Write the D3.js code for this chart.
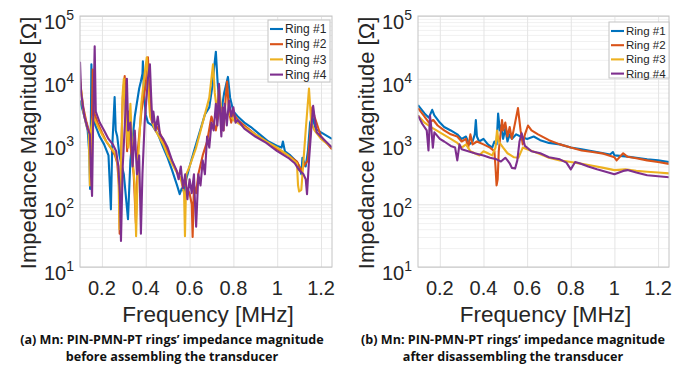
<!DOCTYPE html>
<html>
<head>
<meta charset="utf-8">
<script src="https://cdn.jsdelivr.net/npm/d3@7"></script>
<style>
  body { margin: 0; background: #fff; }
  text { font-family: "Liberation Sans", Arial, sans-serif; }
</style>
</head>
<body>
<div id="chart"></div>
<script>
const ringNames = ["Ring #1", "Ring #2", "Ring #3", "Ring #4"];
const ringColors = ["#0072BD", "#D95319", "#EDB120", "#7E2F8E"];

const xTicks = [0.2, 0.4, 0.6, 0.8, 1, 1.2];
const xTickLabels = ["0.2", "0.4", "0.6", "0.8", "1", "1.2"];
const yTicks = [1e1, 1e2, 1e3, 1e4, 1e5];
const yExponents = ["1", "2", "3", "4", "5"];

const captionsA = ["(a) Mn: PIN-PMN-PT rings\u2019 impedance magnitude", "before assembling the transducer"];
const captionsB = ["(b) Mn: PIN-PMN-PT rings\u2019 impedance magnitude", "after disassembling the transducer"];

// (a) before assembling: [frequency MHz, |Z| ohm]
const beforeRing1 = [[0.10,4500],[0.12,2500],[0.135,1500],[0.143,600],[0.146,175],[0.149,1200],[0.152,17000],[0.157,3000],[0.17,1800],[0.19,1200],[0.21,900],[0.23,600],[0.241,83],[0.247,800],[0.258,5100],[0.263,1500],[0.27,1200],[0.28,600],[0.30,300],[0.319,58],[0.33,500],[0.35,2500],[0.37,7000],[0.378,9100],[0.385,12000],[0.387,19000],[0.392,6000],[0.40,2700],[0.41,2000],[0.43,1800],[0.456,1300],[0.48,800],[0.50,550],[0.52,350],[0.543,200],[0.555,145],[0.565,180],[0.575,160],[0.585,250],[0.60,400],[0.62,700],[0.64,1200],[0.67,2700],[0.69,3500],[0.705,8000],[0.712,15000],[0.72,27000],[0.727,10000],[0.735,4000],[0.745,3000],[0.758,6000],[0.775,10700],[0.785,5000],[0.80,3000],[0.82,2500],[0.85,2000],[0.88,1700],[0.92,1300],[0.96,1000],[1.0,850],[1.02,800],[1.026,1000],[1.035,700],[1.06,600],[1.09,470],[1.10,400],[1.11,300],[1.115,550],[1.13,400],[1.14,700],[1.15,2000],[1.16,2500],[1.175,1600],[1.20,1400],[1.25,1100]];
const beforeRing2 = [[0.10,9000],[0.115,3500],[0.13,2000],[0.143,1400],[0.148,250],[0.155,3000],[0.158,14000],[0.163,3000],[0.18,2000],[0.20,1400],[0.22,1000],[0.24,800],[0.26,600],[0.27,450],[0.278,200],[0.281,34],[0.287,500],[0.295,5000],[0.304,11000],[0.31,3000],[0.315,700],[0.32,3000],[0.33,900],[0.345,300],[0.355,50],[0.365,800],[0.38,3000],[0.40,8000],[0.41,22000],[0.415,8000],[0.425,3000],[0.44,2000],[0.46,1500],[0.48,1000],[0.50,700],[0.53,400],[0.56,250],[0.58,200],[0.60,150],[0.61,100],[0.614,30],[0.62,200],[0.63,150],[0.64,300],[0.66,600],[0.68,1000],[0.70,2500],[0.72,1500],[0.74,4000],[0.755,1500],[0.765,5000],[0.771,9000],[0.78,3000],[0.79,2000],[0.80,2800],[0.82,2200],[0.85,1800],[0.90,1300],[0.95,1000],[1.0,750],[1.05,600],[1.09,480],[1.11,350],[1.12,400],[1.14,500],[1.15,1200],[1.16,3500],[1.17,2500],[1.20,1200],[1.25,750]];
const beforeRing3 = [[0.10,10000],[0.115,3000],[0.13,1800],[0.14,1400],[0.145,200],[0.15,1500],[0.16,2500],[0.18,1800],[0.20,1300],[0.22,1000],[0.24,800],[0.26,650],[0.275,400],[0.28,40],[0.287,400],[0.295,6000],[0.30,10000],[0.31,2000],[0.32,800],[0.33,4000],[0.34,500],[0.35,200],[0.356,31],[0.365,500],[0.38,4000],[0.395,12000],[0.405,22000],[0.412,6000],[0.42,2500],[0.44,1600],[0.46,1200],[0.48,900],[0.50,600],[0.53,380],[0.56,250],[0.575,150],[0.579,31],[0.585,300],[0.60,400],[0.63,800],[0.66,2000],[0.69,5000],[0.707,17000],[0.715,6000],[0.725,3000],[0.735,8000],[0.745,3000],[0.76,2500],[0.78,2800],[0.80,2200],[0.85,1700],[0.90,1300],[0.95,1000],[1.0,800],[1.05,600],[1.09,450],[1.095,200],[1.10,160],[1.11,170],[1.13,1500],[1.145,7000],[1.155,2000],[1.17,1500],[1.20,1100],[1.25,800]];
const beforeRing4 = [[0.10,18600],[0.105,6000],[0.12,2500],[0.135,1600],[0.145,1300],[0.15,300],[0.155,135],[0.16,2000],[0.167,33000],[0.172,3000],[0.19,2000],[0.21,1500],[0.23,1100],[0.25,900],[0.265,700],[0.275,400],[0.282,150],[0.287,26],[0.295,400],[0.305,2000],[0.314,10000],[0.32,1500],[0.33,2000],[0.34,400],[0.35,1500],[0.36,300],[0.37,600],[0.378,34],[0.385,300],[0.395,2000],[0.41,10000],[0.419,17000],[0.425,5000],[0.43,2000],[0.435,3000],[0.445,1500],[0.455,2500],[0.465,1300],[0.48,1100],[0.50,800],[0.52,500],[0.54,350],[0.55,250],[0.56,400],[0.57,180],[0.58,300],[0.59,120],[0.60,250],[0.61,150],[0.62,300],[0.625,100],[0.63,44],[0.64,300],[0.65,200],[0.66,500],[0.67,300],[0.68,1200],[0.69,800],[0.70,2000],[0.71,1500],[0.72,4000],[0.727,1800],[0.734,8300],[0.74,2500],[0.745,1200],[0.75,3500],[0.755,1500],[0.76,4000],[0.77,1800],[0.78,4500],[0.79,2500],[0.80,3500],[0.81,2000],[0.82,2200],[0.85,1600],[0.90,1200],[0.95,950],[1.0,700],[1.05,550],[1.08,450],[1.10,350],[1.12,300],[1.13,250],[1.136,145],[1.145,500],[1.155,1500],[1.164,3700],[1.17,2500],[1.18,1400],[1.21,1100],[1.25,800]];

// (b) after disassembling: [frequency MHz, |Z| ohm]
const afterRing1 = [[0.10,3800],[0.13,2800],[0.15,2400],[0.165,3200],[0.175,2600],[0.20,2000],[0.22,1700],[0.25,1500],[0.28,1300],[0.30,1100],[0.32,1200],[0.335,900],[0.35,1000],[0.36,1300],[0.365,2200],[0.37,1200],[0.38,1000],[0.40,1100],[0.42,900],[0.44,800],[0.45,1000],[0.46,900],[0.467,2800],[0.475,1500],[0.48,1800],[0.49,1100],[0.50,1600],[0.51,1000],[0.52,1300],[0.53,1100],[0.55,1300],[0.57,1200],[0.60,1100],[0.63,1200],[0.66,1050],[0.70,950],[0.75,900],[0.80,800],[0.85,750],[0.90,700],[0.95,650],[0.98,620],[0.993,680],[1.0,600],[1.05,580],[1.10,550],[1.15,520],[1.20,500],[1.25,470]];
const afterRing2 = [[0.10,3400],[0.13,2500],[0.15,2000],[0.17,2200],[0.19,1800],[0.22,1500],[0.25,1300],[0.28,1200],[0.30,1000],[0.32,1100],[0.33,800],[0.34,1300],[0.35,900],[0.37,1000],[0.40,900],[0.43,800],[0.45,700],[0.455,400],[0.46,200],[0.465,250],[0.47,700],[0.485,2200],[0.49,1500],[0.50,2000],[0.51,1200],[0.52,1700],[0.53,1100],[0.545,2000],[0.558,3400],[0.57,1500],[0.58,900],[0.59,1300],[0.604,1800],[0.62,1500],[0.65,1300],[0.70,1050],[0.75,900],[0.80,800],[0.85,720],[0.90,680],[0.95,640],[1.0,560],[1.01,500],[1.04,650],[1.06,570],[1.10,540],[1.15,500],[1.20,470],[1.25,440]];
const afterRing3 = [[0.10,2600],[0.13,2000],[0.16,1700],[0.20,1400],[0.25,1100],[0.28,950],[0.30,800],[0.32,900],[0.34,700],[0.36,650],[0.38,600],[0.40,700],[0.42,650],[0.44,600],[0.455,800],[0.462,1500],[0.47,1000],[0.49,800],[0.51,650],[0.54,560],[0.56,550],[0.58,800],[0.60,750],[0.65,650],[0.70,550],[0.75,500],[0.80,470],[0.85,440],[0.90,410],[0.95,380],[1.0,350],[1.05,360],[1.10,340],[1.15,330],[1.20,320],[1.25,310]];
const afterRing4 = [[0.10,2600],[0.12,1900],[0.14,1500],[0.148,720],[0.155,2600],[0.16,1800],[0.168,800],[0.175,1400],[0.20,1100],[0.22,1000],[0.25,850],[0.27,800],[0.28,500],[0.29,900],[0.30,750],[0.33,700],[0.36,650],[0.40,600],[0.43,550],[0.46,520],[0.48,480],[0.50,550],[0.51,500],[0.52,450],[0.53,380],[0.545,370],[0.555,500],[0.565,1000],[0.575,1350],[0.59,850],[0.62,700],[0.66,650],[0.70,560],[0.75,520],[0.78,460],[0.80,360],[0.82,470],[0.84,450],[0.88,400],[0.92,360],[0.96,330],[1.0,300],[1.04,340],[1.06,350],[1.10,320],[1.15,290],[1.20,280],[1.25,270]];

const width = 686;
const height = 370;

const svg = d3.select("#chart")
    .append("svg")
    .attr("width", width)
    .attr("height", height);

svg.append("rect").attr("width", width).attr("height", height).attr("fill", "#fff");

function drawPanel(id, left, right, series, legendBox, captions, captionX) {
    const top = 16, bottom = 267;

    const x = d3.scaleLinear().domain([0.1, 1.25]).range([left, right]);
    const y = d3.scaleLog().domain([10, 1e5]).range([bottom, top]);

    const g = svg.append("g");

    // minor log grid
    const minor = [];
    for (let e = 1; e < 5; e++) for (let m = 2; m <= 9; m++) minor.push(m * Math.pow(10, e));
    g.append("g")
        .attr("transform", `translate(${left},0)`)
        .call(d3.axisLeft(y).tickValues(minor).tickSize(-(right - left)).tickFormat(""))
        .call(s => s.select(".domain").remove())
        .call(s => s.selectAll("line").attr("stroke", "#f1f1f1"));

    // major grid
    g.append("g")
        .attr("transform", `translate(${left},0)`)
        .call(d3.axisLeft(y).tickValues(yTicks).tickSize(-(right - left)).tickFormat(""))
        .call(s => s.select(".domain").remove())
        .call(s => s.selectAll("line").attr("stroke", "#e4e4e4"));
    g.append("g")
        .attr("transform", `translate(0,${bottom})`)
        .call(d3.axisBottom(x).tickValues(xTicks).tickSize(-(bottom - top)).tickFormat(""))
        .call(s => s.select(".domain").remove())
        .call(s => s.selectAll("line").attr("stroke", "#e4e4e4"));

    // lines
    const clipId = "clip" + id;
    svg.append("clipPath").attr("id", clipId)
        .append("rect").attr("x", left).attr("y", top).attr("width", right - left).attr("height", bottom - top);

    const line = d3.line()
        .x(d => x(d[0]))
        .y(d => y(d[1]));

    g.append("g")
        .attr("clip-path", `url(#${clipId})`)
        .selectAll("path")
        .data(series)
        .enter()
        .append("path")
        .attr("d", d => line(d))
        .attr("fill", "none")
        .attr("stroke", (d, i) => ringColors[i])
        .attr("stroke-width", 2.1)
        .attr("stroke-linejoin", "round");

    // axes box
    g.append("rect")
        .attr("x", left).attr("y", top)
        .attr("width", right - left).attr("height", bottom - top)
        .attr("fill", "none")
        .attr("stroke", "#c4c4c4")
        .attr("stroke-width", 1);

    // y tick labels with superscript exponents
    yTicks.forEach((t, i) => {
        const txt = g.append("text")
            .attr("x", left - 6)
            .attr("y", y(t) + 13)
            .attr("text-anchor", "end")
            .attr("fill", "#262626")
            .style("font-size", "20px");
        txt.append("tspan").text("10");
        txt.append("tspan")
            .attr("dy", -9)
            .style("font-size", "14px")
            .text(yExponents[i]);
    });

    // x tick labels
    g.selectAll(".xlab")
        .data(xTicks)
        .enter()
        .append("text")
        .attr("x", d => x(d))
        .attr("y", bottom + 28)
        .attr("text-anchor", "middle")
        .attr("fill", "#262626")
        .style("font-size", "20px")
        .text((d, i) => xTickLabels[i]);

    // x axis label
    g.append("text")
        .attr("x", (left + right) / 2 + 2)
        .attr("y", 322)
        .attr("text-anchor", "middle")
        .attr("fill", "#262626")
        .style("font-size", "22.5px")
        .text("Frequency [MHz]");

    // y axis label
    g.append("text")
        .attr("transform", `translate(${left - 44},143) rotate(-90)`)
        .attr("text-anchor", "middle")
        .attr("fill", "#262626")
        .style("font-size", "22px")
        .text("Impedance Magnitude [\u03A9]");

    // legend
    const lg = g.append("g");
    lg.append("rect")
        .attr("x", legendBox.x).attr("y", legendBox.y)
        .attr("width", legendBox.w).attr("height", legendBox.h)
        .attr("fill", "#fff")
        .attr("stroke", "#c4c4c4");
    const item = lg.selectAll(".legend")
        .data(ringNames)
        .enter()
        .append("g")
        .attr("transform", (d, i) => `translate(${legendBox.x + 2},${legendBox.y + 9 + i * legendBox.step})`);
    item.append("line")
        .attr("x1", 0).attr("x2", 13)
        .attr("stroke", (d, i) => ringColors[i])
        .attr("stroke-width", 2.1);
    item.append("text")
        .attr("x", 15)
        .attr("dy", "0.35em")
        .attr("fill", "#262626")
        .style("font-size", legendBox.font + "px")
        .text(d => d);

    // caption
    captions.forEach((c, i) => {
        svg.append("text")
            .attr("x", captionX)
            .attr("y", 344 + i * 17)
            .attr("text-anchor", "middle")
            .attr("fill", "#111")
            .style("font-family", "'Open Sans', sans-serif")
            .style("font-weight", "bold")
            .style("font-size", "12.6px")
            .text(c);
    });
}

drawPanel("a", 80, 332, [beforeRing1, beforeRing2, beforeRing3, beforeRing4],
    { x: 268, y: 20, w: 62, h: 62, step: 15.2, font: 12 }, captionsA, 172);
drawPanel("b", 418, 669, [afterRing1, afterRing2, afterRing3, afterRing4],
    { x: 609, y: 22, w: 60, h: 56, step: 14.2, font: 11.5 }, captionsB, 513);
</script>
</body>
</html>
